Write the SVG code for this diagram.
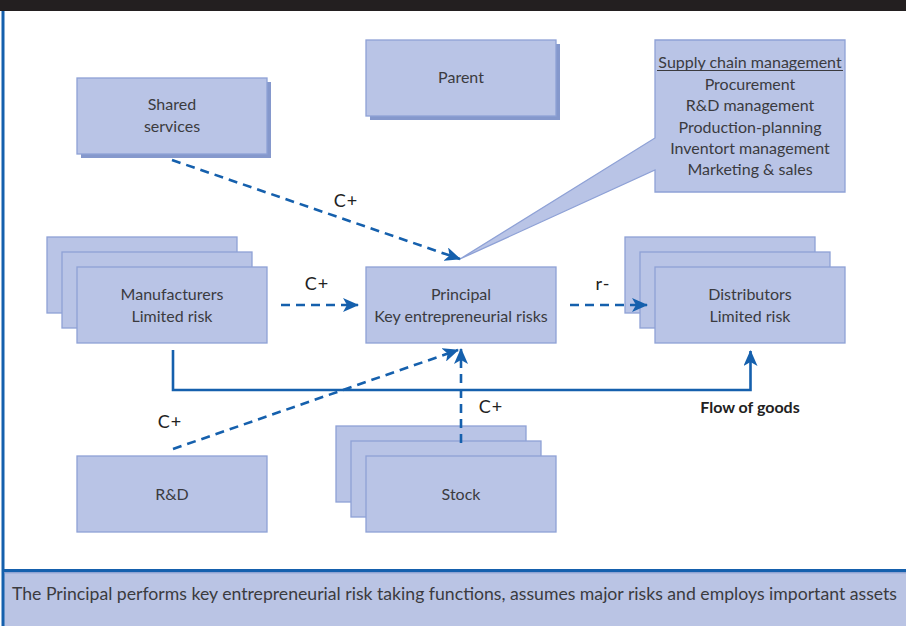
<svg xmlns="http://www.w3.org/2000/svg" width="906" height="626" viewBox="0 0 906 626">
<style>
.box{fill:#b9c4e6;stroke:#8ea1d6;stroke-width:1.3}
.shadow{fill:#8598cc}
.t{font-family:Lato,"Open Sans","Liberation Sans",sans-serif;font-size:16px;fill:#3b3b3f;text-anchor:middle}
.lbl{font-family:Lato,"Open Sans","Liberation Sans",sans-serif;font-size:18px;fill:#222;text-anchor:middle;letter-spacing:1px}
.dash{fill:none;stroke:#1560ad;stroke-width:2.6;stroke-dasharray:9 6}
.solid{fill:none;stroke:#1560ad;stroke-width:2.6}
</style>
<defs>
<marker id="ah" viewBox="0 0 16 14" refX="15" refY="7" markerWidth="16" markerHeight="14" markerUnits="userSpaceOnUse" orient="auto">
<path d="M0,0 L16,7 L0,14 L4,7 Z" fill="#1560ad"/>
</marker>
</defs>
<rect x="0" y="0" width="906" height="11" fill="#231f20"/>
<rect x="0" y="11" width="906" height="615" fill="#fff"/>
<rect x="4" y="572" width="902" height="54" fill="#bac4e4"/>
<line x1="3" y1="11" x2="3" y2="626" stroke="#1560ad" stroke-width="3"/>
<line x1="2" y1="570.5" x2="906" y2="570.5" stroke="#1560ad" stroke-width="3"/>
<line x1="4" y1="572.8" x2="906" y2="572.8" stroke="#7f98cc" stroke-width="1"/>

<g id="parent">
<rect class="shadow" x="370" y="44" width="190" height="76"/>
<rect class="box" x="366" y="40" width="190" height="76"/>
<text class="t" x="461" y="83">Parent</text>
</g>
<g id="shared-services">
<rect class="shadow" x="81" y="82" width="190" height="76"/>
<rect class="box" x="77" y="78" width="190" height="76"/>
<text class="t" x="172" y="110">Shared</text>
<text class="t" x="172" y="132">services</text>
</g>
<g id="supply-chain">
<path class="box" d="M655,40 H845 V192 H655 V170 L460,259 L655,138 Z"/>
<text class="t" x="750" y="68">Supply chain management</text>
<line x1="657" y1="70.5" x2="843" y2="70.5" stroke="#3b3b3f" stroke-width="1"/>
<text class="t" x="750" y="90">Procurement</text>
<text class="t" x="750" y="111">R&amp;D management</text>
<text class="t" x="750" y="133">Production-planning</text>
<text class="t" x="750" y="154">Inventort management</text>
<text class="t" x="750" y="175">Marketing &amp; sales</text>
</g>
<g id="manufacturers">
<rect class="box" x="47" y="237" width="190" height="76"/>
<rect class="box" x="62" y="252" width="190" height="76"/>
<rect class="box" x="77" y="267" width="190" height="76"/>
<text class="t" x="172" y="300">Manufacturers</text>
<text class="t" x="172" y="322">Limited risk</text>
</g>
<g id="principal">
<rect class="box" x="366" y="267" width="190" height="76"/>
<text class="t" x="461" y="300">Principal</text>
<text class="t" x="461" y="322">Key entrepreneurial risks</text>
</g>
<g id="distributors">
<rect class="box" x="625" y="237" width="190" height="76"/>
<rect class="box" x="640" y="252" width="190" height="76"/>
<rect class="box" x="655" y="267" width="190" height="76"/>
<text class="t" x="750" y="300">Distributors</text>
<text class="t" x="750" y="322">Limited risk</text>
</g>
<g id="rd">
<rect class="box" x="77" y="456" width="190" height="76"/>
<text class="t" x="172" y="500">R&amp;D</text>
</g>
<g id="stock">
<rect class="box" x="336" y="426" width="190" height="76"/>
<rect class="box" x="351" y="441" width="190" height="76"/>
<rect class="box" x="366" y="456" width="190" height="76"/>
<text class="t" x="461" y="500">Stock</text>
</g>

<g id="connectors">
<path class="dash" d="M172,160 L460,259" marker-end="url(#ah)"/>
<path class="dash" d="M281,305 L358,305" marker-end="url(#ah)"/>
<path class="dash" d="M570,305 L647,305" marker-end="url(#ah)"/>
<path class="solid" d="M173,350 V390 H750.5 V351" marker-end="url(#ah)"/>
<path class="dash" d="M173,449 L458,350" marker-end="url(#ah)"/>
<path class="dash" d="M461,443 L461,349" marker-end="url(#ah)"/>
<text class="lbl" x="346" y="207">C+</text>
<text class="lbl" x="317" y="290">C+</text>
<text class="lbl" x="603" y="290">r-</text>
<text class="lbl" x="170" y="428">C+</text>
<text class="lbl" x="491" y="413">C+</text>
<text class="lbl" x="750" y="413" style="font-weight:bold;font-size:16px;letter-spacing:0">Flow of goods</text>
</g>
<text x="12" y="600" font-family="Lato,'Open Sans','Liberation Sans',sans-serif" font-size="17" fill="#3b3b3f" textLength="885" lengthAdjust="spacingAndGlyphs">The Principal performs key entrepreneurial risk taking functions, assumes major risks and employs important assets</text>
</svg>
